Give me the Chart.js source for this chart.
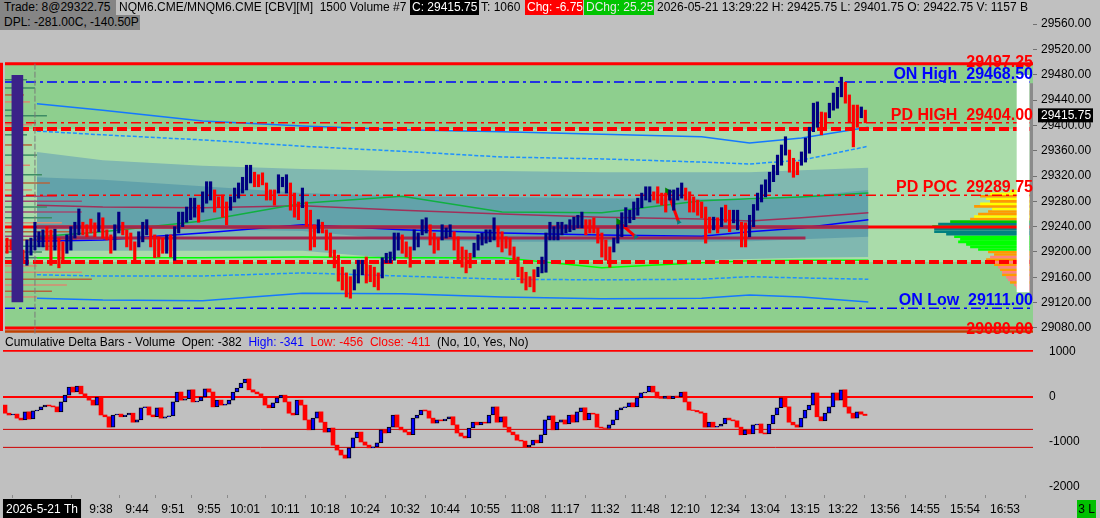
<!DOCTYPE html>
<html>
<head>
<meta charset="utf-8">
<script src="https://cdn.jsdelivr.net/npm/chart.js@4.4.1/dist/chart.umd.min.js"></script>
<style>
  body { margin: 0; background: #c0c0c0; font-family: "Liberation Sans", Arial, sans-serif; font-size: 12px; }
  #wrap { position: relative; width: 1100px; height: 518px; overflow: hidden; }
  .pane { position: absolute; left: 0; }
  .hd { position: absolute; top: 0; height: 15px; line-height: 15px; white-space: nowrap; font-size: 12px; color: #000; z-index: 5; box-sizing: border-box; }
</style>
</head>
<body>
<div id="wrap">
  <canvas id="priceChart" class="pane" style="top:0" width="1100" height="340"></canvas>
  <canvas id="deltaChart" class="pane" style="top:335px" width="1100" height="183"></canvas>

  <div class="hd" style="left:0;width:116px;background:#858585;padding-left:4px">Trade: 8@29322.75</div>
  <div class="hd" style="left:119px">NQM6.CME/MNQM6.CME [CBV][M]&nbsp; 1500 Volume #7</div>
  <div class="hd" style="left:410px;background:#000;color:#fff;padding:0 2px">C: 29415.75</div>
  <div class="hd" style="left:481px">T: 1060</div>
  <div class="hd" style="left:525px;width:58px;background:#ff0000;color:#fff;padding-left:2px">Chg: -6.75</div>
  <div class="hd" style="left:584px;width:70px;background:#00c400;color:#e8e8e8;padding-left:2px">DChg: 25.25</div>
  <div class="hd" style="left:657px">2026-05-21 13:29:22 H: 29425.75 L: 29401.75 O: 29422.75 V: 1157 B</div>
  <div class="hd" style="top:15px;left:0;width:140px;background:#858585;padding-left:4px">DPL: -281.00C, -140.50P</div>

  <div class="hd" style="top:335px;left:5px">Cumulative Delta Bars - Volume&nbsp; Open: -382&nbsp; <span style="color:#0000ff">High: -341</span>&nbsp; <span style="color:#ff0000">Low: -456</span>&nbsp; <span style="color:#ff0000">Close: -411</span>&nbsp; (No, 10, Yes, No)</div>
  <div class="hd" style="top:500px;left:1077px;width:19px;height:18px;line-height:18px;background:#00c000;text-align:center">3 L</div>
</div>

<script>
// 1500-volume bars, oldest first
const barHigh = [
  29222,29219,29211,29206,29203,29219,29222,29247,29232,29235,
  29240,29235,29236,29222,29216,29227,29240,29247,29268,29247,
  29243,29252,29246,29262,29254,29235,29227,29243,29263,29247,
  29235,29230,29216,29232,29247,29251,29238,29227,29224,29222,
  29227,29227,29240,29263,29263,29271,29285,29285,29274,29295,
  29311,29311,29298,29287,29290,29279,29287,29301,29309,29318,
  29337,29337,29326,29322,29325,29309,29298,29298,29322,29318,
  29322,29309,29293,29279,29301,29279,29266,29243,29251,29247,
  29235,29230,29203,29195,29176,29167,29161,29172,29187,29187,
  29192,29179,29176,29167,29191,29198,29200,29230,29230,29227,
  29216,29208,29235,29230,29251,29254,29243,29230,29222,29243,
  29238,29243,29232,29224,29208,29203,29198,29214,29227,29230,
  29235,29235,29254,29240,29232,29224,29222,29208,29192,29176,
  29168,29161,29172,29176,29192,29230,29247,29240,29247,29247,
  29243,29251,29255,29258,29263,29251,29251,29254,29238,29230,
  29219,29208,29222,29243,29262,29270,29266,29279,29285,29293,
  29303,29303,29295,29303,29293,29293,29298,29298,29301,29309,
  29301,29295,29287,29282,29279,29271,29255,29255,29254,29270,
  29274,29266,29266,29266,29247,29246,29258,29275,29293,29306,
  29314,29326,29337,29353,29369,29382,29361,29348,29342,29358,
  29380,29397,29435,29437,29421,29420,29435,29451,29460,29476,
  29468,29448,29432,29432,29429,29424
];
const barLow = [
  29198,29203,29192,29183,29183,29179,29195,29203,29208,29208,
  29203,29179,29203,29175,29187,29198,29203,29222,29227,29227,
  29224,29230,29224,29232,29222,29219,29198,29203,29230,29227,
  29208,29203,29183,29208,29216,29227,29208,29191,29192,29198,
  29198,29192,29187,29230,29240,29247,29251,29255,29247,29263,
  29277,29282,29263,29270,29255,29243,29266,29279,29285,29293,
  29298,29309,29303,29303,29306,29282,29282,29274,29293,29303,
  29293,29266,29255,29251,29270,29240,29203,29208,29230,29230,
  29203,29192,29175,29154,29140,29129,29127,29140,29151,29164,
  29151,29153,29145,29140,29159,29183,29183,29187,29203,29198,
  29192,29176,29203,29208,29227,29230,29211,29198,29203,29219,
  29222,29224,29203,29187,29176,29167,29175,29192,29203,29211,
  29214,29216,29219,29208,29200,29206,29195,29187,29161,29151,
  29140,29145,29137,29161,29167,29168,29219,29219,29219,29227,
  29230,29232,29235,29238,29238,29227,29230,29230,29214,29192,
  29187,29176,29200,29214,29224,29240,29246,29251,29258,29270,
  29282,29279,29282,29277,29274,29263,29282,29266,29282,29285,
  29282,29263,29263,29258,29254,29214,29230,29235,29230,29240,
  29247,29232,29246,29235,29208,29208,29224,29240,29266,29279,
  29287,29295,29311,29322,29337,29353,29326,29318,29322,29337,
  29342,29356,29390,29397,29385,29397,29412,29424,29427,29445,
  29435,29405,29366,29397,29412,29404
];
// B = up bar, R = down bar
const barSide = ('RRRRRBBBBB' + 'RRBRRBBBBR' + 'RRRBRRRBBR' + 'RRRBBBRRRR' + 'BRBBBBBBRB' +
  'BBRRRRBBBB' + 'BBRRRRRRBB' + 'BRRRBRRRBR' + 'RRRRRRRBBB' + 'RRRRBBBBBR' +
  'RRBBBBRRRB' + 'BBRRRRRBBB' + 'BBBRRRRRRR' + 'RRRBBBBBBB' + 'BBBBBRRRRR' +
  'RRBBBBBBBB' + 'BBRRRRBBBB' + 'RRRRRRRBRB' + 'RRBBRRBBBB' + 'BBBBBBRRRB' +
  'BBBBRRBBBB' + 'RRRRBR').split('');

// cumulative delta bars (same bar positions)
const deltaOpen = [
  -180,-360,-400,-380,-470,-510,-330,-490,-310,-290,
  -220,-180,-200,-220,-330,-110,40,220,110,240,
  70,0,-70,-180,0,-400,-440,-670,-400,-380,
  -440,-400,-360,-560,-510,-240,-220,-400,-440,-240,
  -470,-440,-420,-110,110,-70,-40,160,-110,-90,
  0,180,110,-220,-70,-180,-160,-70,110,200,
  310,400,160,110,70,0,-180,-240,-130,-20,
  40,-110,-360,-400,-70,-180,-510,-730,-470,-330,
  -560,-780,-690,-1070,-1180,-1290,-1360,-1130,-910,-780,
  -1000,-1070,-1130,-1110,-1020,-730,-800,-670,-400,-670,
  -730,-780,-840,-470,-400,-290,-310,-470,-580,-510,
  -530,-490,-440,-620,-800,-870,-910,-690,-560,-620,
  -560,-580,-400,-220,-560,-440,-670,-780,-840,-960,
  -980,-1110,-1070,-960,-1020,-840,-510,-420,-730,-560,
  -510,-600,-400,-560,-330,-240,-510,-360,-380,-670,
  -690,-700,-620,-510,-290,-240,-220,-130,-220,-20,
  90,110,240,110,-20,-30,20,-40,20,0,
  110,-110,-290,-300,-330,-360,-670,-560,-670,-650,
  -600,-470,-510,-530,-670,-840,-730,-820,-620,-600,
  -800,-820,-600,-400,-240,-20,-220,-560,-620,-670,
  -470,-290,-180,90,-440,-530,-360,-220,90,-70,
  160,-220,-360,-470,-330,-382
];
const deltaClose = [
  -360,-400,-380,-470,-510,-330,-490,-310,-290,-220,
  -180,-200,-220,-330,-110,40,220,110,240,70,
  0,-70,-180,0,-400,-440,-670,-400,-380,-440,
  -400,-360,-560,-510,-240,-220,-400,-440,-240,-470,
  -440,-420,-110,110,-70,-40,160,-110,-90,0,
  180,110,-220,-70,-180,-160,-70,110,200,310,
  400,160,110,70,0,-180,-240,-130,-20,40,
  -110,-360,-400,-70,-180,-510,-730,-470,-330,-560,
  -780,-690,-1070,-1180,-1290,-1360,-1130,-910,-780,-1000,
  -1070,-1130,-1110,-1020,-730,-800,-670,-400,-670,-730,
  -780,-840,-470,-400,-290,-310,-470,-580,-510,-530,
  -490,-440,-620,-800,-870,-910,-690,-560,-620,-560,
  -580,-400,-220,-560,-440,-670,-780,-840,-960,-980,
  -1110,-1070,-960,-1020,-840,-510,-420,-730,-560,-510,
  -600,-400,-560,-330,-240,-510,-360,-380,-670,-690,
  -700,-620,-510,-290,-240,-220,-130,-220,-20,90,
  110,240,110,-20,-30,20,-40,20,0,110,
  -110,-290,-300,-330,-360,-670,-560,-670,-650,-600,
  -470,-510,-530,-670,-840,-730,-820,-620,-600,-800,
  -820,-600,-400,-240,-20,-220,-560,-620,-670,-470,
  -290,-180,90,-440,-530,-360,-220,90,-70,160,
  -220,-360,-470,-330,-382,-411
];

// axis ticks
const priceTicks = [29560, 29520, 29480, 29440, 29400, 29360, 29320, 29280, 29240, 29200, 29160, 29120, 29080];
const deltaTicks = [1000, 0, -1000, -2000];
const timeTickPos = [9.25, 24, 33, 42, 51, 60, 70, 80, 90, 100, 110, 120, 130, 140, 150, 160, 170, 180, 190, 200, 209.5, 220, 230, 240, 250];
const timeTickLabels = ['2026-5-21 Th', '9:38', '9:44', '9:51', '9:55', '10:01', '10:11', '10:18', '10:24', '10:32', '10:44', '10:55',
  '11:08', '11:17', '11:32', '11:48', '12:10', '12:34', '13:04', '13:15', '13:22', '13:56', '14:55', '15:54', '16:53'];

// reference levels
const levelNames = ['ON High', 'PD HIGH', 'PD POC', 'ON Low'];
const levelPrices = [29468.5, 29404.0, 29289.75, 29111.0];
const boxTop = 29497.25;
const boxBottom = 29080.0;
const vaHigh = 29394.25;
const vaLow = 29184.25;
const pocPrice = 29239.5;
const devPocPrice = 29222;
const lastPrice = 29415.75;
const deltaGuides = [-720, -1120];

// vwap study, sampled at these bar positions
const studyX = [7.5, 24, 49, 74, 99, 124, 149, 174, 186, 199, 215.75];
const vwap = [29217, 29219, 29230, 29243, 29235, 29230, 29227, 29225, 29232, 29238, 29251];
const band1Up = [29224, 29232, 29249, 29277, 29288, 29263, 29262, 29281, 29284, 29287, 29293];
const band1Dn = [29191, 29191, 29191, 29192, 29191, 29191, 29175, 29183, 29186, 29187, 29187];
const band2Up = [29391, 29385, 29377, 29367, 29359, 29350, 29347, 29342, 29339, 29345, 29367];
const band2Dn = [29164, 29162, 29162, 29167, 29162, 29157, 29156, 29157, 29161, 29159, 29157];
const band3Up = [29434, 29424, 29407, 29399, 29393, 29390, 29386, 29382, 29372, 29380, 29397];
const band3Dn = [29127, 29124, 29123, 29135, 29134, 29129, 29126, 29127, 29132, 29129, 29121];
const trendLine = [29274, 29271, 29270, 29273, 29266, 29260, 29255, 29252, 29249, 29254, 29262];
const shadeOuterTop = [29358, 29345, 29336, 29331, 29328, 29328, 29326, 29326, 29326, 29329, 29333];
const shadeOuterBot = [29202, 29202, 29202, 29202, 29189, 29187, 29187, 29187, 29189, 29191, 29192];
const shadeInnerTop = [29318, 29314, 29304, 29293, 29288, 29287, 29285, 29284, 29282, 29288, 29298];
const shadeInnerBot = [29238, 29238, 29236, 29233, 29219, 29216, 29216, 29216, 29217, 29220, 29224];

// session volume profile (right) and overnight profile (left)
const rightProfPrice = [29296, 29292, 29288, 29284, 29280, 29276, 29272, 29268, 29264, 29260,
  29256, 29252, 29248, 29244, 29240, 29236, 29232, 29228, 29224, 29220,
  29216, 29212, 29208, 29204, 29200, 29196, 29192, 29188, 29184, 29180,
  29176, 29172, 29168, 29164, 29160, 29156, 29152, 29148, 29144, 29140];
const rightProfVol = [5, 10, 12.5, 11, 10, 12.5, 14, 9.5, 10.5, 13,
  14, 15, 20, 23, 24.5, 24, 24, 21, 19, 17.5,
  18, 16, 15, 13, 10.5, 9, 10, 11, 9.5, 9,
  8, 7.5, 7, 7, 6, 5.5, 5, 4, 3.5, 3];
const rightProfZone = 'YYOYOYOYOOYOGTGTTTLLLLLLOOSOSOSOSOSSOSSS'.split('');
const leftProfPrice = [29472, 29459, 29448, 29437, 29424, 29415, 29401, 29385, 29369, 29353,
  29337, 29322, 29309, 29298, 29288, 29280, 29271, 29263, 29254, 29246,
  29232, 29225, 29219, 29209, 29200, 29191, 29178, 29168, 29157, 29148, 29138, 29129];
const leftProfVol = [5.5, 7.5, 4.75, 6.25, 4.25, 10.5, 6.75, 5.5, 6.75, 8,
  6.25, 9.25, 11.25, 6.75, 13, 19.25, 10.5, 19.25, 11.75, 14.25,
  16.75, 22.5, 18, 13, 9.25, 14.25, 8, 19.25, 21.75, 15.5, 11.75, 8];
const leftProfZone = 'ggbsggsgbgsgbsmmgmgsbmbgggssbsbs'.split('');
const overnightRange = [29121, 29479];
const tpoRange = [29137, 29479];

// trade arrows
const arrowFrom = [[153.25, 29247], [165.5, 29295]];
const arrowTo = [[157.5, 29224], [168.25, 29247]];

Chart.defaults.font.family = '"Liberation Sans", Arial, Helvetica, sans-serif';
Chart.defaults.font.size = 12;
Chart.defaults.color = '#000000';

const X_MIN = -0.5, X_MAX = 257, PROFILE_RIGHT = 256.25;
const rightZoneColor = { Y: '#ffff00', O: '#ff9900', G: '#00c000', T: '#008080', L: '#00ff00', S: '#ff8080' };
const leftZoneColor = { g: '#3d8c64', b: '#b4643c', s: '#d88a70', m: '#a04870' };

function hLine(price, color, width, dash, order, x0, x1) {
  return {
    type: 'line',
    data: [{ x: x0 === undefined ? X_MIN : x0, y: price }, { x: x1 === undefined ? X_MAX : x1, y: price }],
    borderColor: color, borderWidth: width, borderDash: dash || [],
    pointRadius: 0, fill: false, order: order
  };
}
function studyLine(vals, color, width, dash, order) {
  return {
    type: 'line',
    data: studyX.map((x, i) => ({ x: x, y: vals[i] })),
    borderColor: color, borderWidth: width, borderDash: dash || [],
    pointRadius: 0, fill: false, order: order
  };
}
function zeroPad(s) { s.paddingTop = 0; s.paddingBottom = 0; s.paddingLeft = 0; s.paddingRight = 0; }

// ---- price pane datasets ----
const priceSets = [];
priceSets.push(studyLine(shadeOuterBot, 'rgba(0,0,0,0)', 0, null, 95));
priceSets.push(Object.assign(studyLine(shadeOuterTop, 'rgba(0,0,0,0)', 0, null, 94), { fill: priceSets.length - 1, backgroundColor: '#80b8b0' }));
priceSets.push(studyLine(shadeInnerBot, 'rgba(0,0,0,0)', 0, null, 93));
priceSets.push(Object.assign(studyLine(shadeInnerTop, 'rgba(0,0,0,0)', 0, null, 92), { fill: priceSets.length - 1, backgroundColor: '#62a2aa' }));

leftProfPrice.forEach((p, i) => priceSets.push(hLine(p, leftZoneColor[leftProfZone[i]], 1.5, null, 80, X_MIN, X_MIN + leftProfVol[i])));
rightProfPrice.forEach((p, i) => priceSets.push(hLine(p, rightZoneColor[rightProfZone[i]], 2.6, null, 80, PROFILE_RIGHT - rightProfVol[i], PROFILE_RIGHT)));

priceSets.push(studyLine(band3Up, '#1478ff', 1.5, null, 70));
priceSets.push(studyLine(band3Dn, '#1478ff', 1.5, null, 70));
priceSets.push(studyLine(band2Up, '#1e90ff', 1.5, [4, 2], 70));
priceSets.push(studyLine(band2Dn, '#1e90ff', 1.5, [4, 2], 70));
priceSets.push(studyLine(band1Up, '#10b040', 1.5, null, 70));
priceSets.push(studyLine(band1Dn, '#00ff00', 1.5, null, 70));
priceSets.push(studyLine(trendLine, '#a0305a', 1.5, null, 70));
priceSets.push(studyLine(vwap, '#0000ff', 1.5, null, 70));

priceSets.push(hLine(boxTop, '#ff0000', 3, null, 60));
priceSets.push(hLine(boxBottom, '#ff0000', 3, null, 60));
priceSets.push(hLine(boxBottom - 5.5, '#c04000', 2.5, null, 60));
priceSets.push(hLine(levelPrices[0], '#0000ff', 1.5, [10, 4, 3, 4], 60));
priceSets.push(hLine(levelPrices[1], '#ff0000', 1.5, [10, 4, 3, 4], 60));
priceSets.push(hLine(levelPrices[2], '#ff0000', 1.5, [10, 4, 3, 4], 60));
priceSets.push(hLine(levelPrices[3], '#0000ff', 1.5, [10, 4, 3, 4], 60));
priceSets.push(hLine(vaHigh, '#ff0000', 4, [10, 4], 60));
priceSets.push(hLine(vaLow, '#ff0000', 4, [10, 4], 60));
priceSets.push(hLine(pocPrice, '#ff0000', 3, null, 60));
priceSets.push(hLine(pocPrice, '#a02850', 3, null, 59, studyX[0], studyX[studyX.length - 1]));
priceSets.push(hLine(devPocPrice, '#a02850', 3, null, 59, studyX[0], 200));
priceSets.push({
  type: 'line', data: [{ x: 7, y: 29071 }, { x: 7, y: 29500 }],
  borderColor: '#7a7a7a', borderWidth: 1, borderDash: [6, 2], pointRadius: 0, order: 58
});
arrowFrom.forEach((a, i) => priceSets.push({
  type: 'line', data: [{ x: a[0], y: a[1] }, { x: arrowTo[i][0], y: arrowTo[i][1] }],
  borderColor: '#ff0000', borderWidth: 3, pointStyle: 'triangle', pointRadius: [5, 3],
  pointRotation: [90, 90], pointBackgroundColor: ['#008000', '#008080'], pointBorderWidth: 0, order: 7
}));

priceSets.push({
  type: 'bar',
  data: barHigh.map((h, i) => ({ x: i, y: [barLow[i], h] })),
  backgroundColor: barSide.map(s => (s === 'B' ? '#000080' : '#ff0000')),
  barThickness: 2.5, grouped: false, borderWidth: 0, order: 5
});
priceSets.push({
  type: 'bar', data: [{ x: 2.6, y: overnightRange }],
  backgroundColor: '#3a2288', barThickness: 11, grouped: false, order: 2
});
priceSets.push({
  type: 'bar', data: [{ x: 254.5, y: tpoRange }],
  backgroundColor: '#ffffff', barThickness: 12, grouped: false, order: 2
});
priceSets.push({
  type: 'bar', data: [{ x: 256.75, y: [29124, 29466] }],
  backgroundColor: '#8a8a8a', barThickness: 4, grouped: false, order: 2
});

const boxFill = {
  id: 'boxFill',
  beforeDatasetsDraw(chart) {
    const { ctx, chartArea, scales } = chart;
    const y = scales.y;
    const t = y.getPixelForValue(boxTop), b = y.getPixelForValue(boxBottom);
    ctx.save();
    ctx.fillStyle = '#8ecf8e';
    ctx.fillRect(chartArea.left, t, chartArea.right - chartArea.left, b - t);
    const vt = y.getPixelForValue(vaHigh), vb = y.getPixelForValue(vaLow);
    ctx.fillStyle = '#aadcaa';
    ctx.fillRect(chartArea.left, vt, chartArea.right - chartArea.left, vb - vt);
    ctx.fillStyle = '#ff0000';
    ctx.fillRect(0, t - 1, 3, b - t + 4);
    ctx.restore();
  }
};

const levelLabels = {
  id: 'levelLabels',
  afterDatasetsDraw(chart) {
    const { ctx, chartArea, scales } = chart;
    const y = scales.y;
    const colors = ['#0000ff', '#ff0000', '#ff0000', '#0000ff'];
    ctx.save();
    ctx.font = 'bold 16px "Liberation Sans", Arial, sans-serif';
    ctx.textAlign = 'right';
    ctx.textBaseline = 'alphabetic';
    levelPrices.forEach((p, i) => {
      ctx.fillStyle = colors[i];
      ctx.fillText(levelNames[i] + '  ' + p.toFixed(2), chartArea.right, y.getPixelForValue(p) - 3);
    });
    ctx.fillStyle = '#ff0000';
    ctx.fillText(boxTop.toFixed(2), chartArea.right, y.getPixelForValue(boxTop) + 3);
    ctx.fillText(boxBottom.toFixed(2), chartArea.right, y.getPixelForValue(boxBottom) + 6);
    // last price marker on the axis
    const py = y.getPixelForValue(lastPrice);
    ctx.fillStyle = '#000000';
    ctx.fillRect(chartArea.right + 5, py - 7, 55, 14);
    ctx.font = '12px "Liberation Sans", Arial, sans-serif';
    ctx.fillStyle = '#ffffff';
    ctx.textAlign = 'left';
    ctx.textBaseline = 'middle';
    ctx.fillText(lastPrice.toFixed(2), chartArea.right + 8, py + 0.5);
    ctx.restore();
  }
};

new Chart(document.getElementById('priceChart'), {
  type: 'bar',
  data: { datasets: priceSets },
  plugins: [boxFill, levelLabels],
  options: {
    responsive: false,
    animation: false,
    events: [],
    layout: { padding: { left: 3, right: 0, top: 18, bottom: 6 } },
    plugins: { legend: { display: false }, tooltip: { enabled: false } },
    scales: {
      x: { type: 'linear', min: X_MIN, max: X_MAX, display: false, offset: false },
      y: {
        type: 'linear', position: 'right', min: 29070.5, max: 29569.5, beginAtZero: false,
        afterBuildTicks: s => { s.ticks = priceTicks.map(v => ({ value: v })); },
        afterFit: s => { s.width = 67; zeroPad(s); },
        ticks: { padding: 4, color: '#000', font: { size: 12 }, callback: v => Number(v).toFixed(2) },
        grid: { drawOnChartArea: false, drawTicks: true, tickLength: 4, color: '#707070' },
        border: { display: false }
      }
    }
  }
});

// ---- cumulative delta pane ----
const deltaSets = [];
deltaSets.push(hLine(1030, '#ff0000', 2, null, 60));
deltaSets.push(hLine(0, '#ff0000', 2, null, 60));
deltaGuides.forEach(v => deltaSets.push(hLine(v, '#cc0000', 1, null, 60)));
deltaSets.push({
  type: 'bar',
  data: deltaClose.map((c, i) => ({ x: i, y: [deltaOpen[i], c] })),
  backgroundColor: deltaClose.map((c, i) => (c > deltaOpen[i] ? '#0000ff' : '#ff0000')),
  borderColor: '#000000',
  borderWidth: deltaClose.map((c, i) => (c > deltaOpen[i] ? 1 : 0)),
  borderSkipped: false,
  barThickness: 4, grouped: false, order: 5
});

new Chart(document.getElementById('deltaChart'), {
  type: 'bar',
  data: { datasets: deltaSets },
  options: {
    responsive: false,
    animation: false,
    events: [],
    layout: { padding: { left: 3, right: 0, top: 15, bottom: 0 } },
    plugins: { legend: { display: false }, tooltip: { enabled: false } },
    scales: {
      x: {
        type: 'linear', position: 'bottom', min: X_MIN, max: X_MAX, offset: false,
        afterBuildTicks: s => { s.ticks = timeTickPos.map(v => ({ value: v })); },
        afterFit: s => { s.height = 23; zeroPad(s); },
        ticks: {
          autoSkip: false, maxRotation: 0, minRotation: 0, padding: 4,
          font: { size: 12 },
          color: c => (c.index === 0 ? '#ffffff' : '#000000'),
          showLabelBackdrop: c => c.index === 0,
          backdropColor: '#000000',
          backdropPadding: { left: 3, right: 3, top: 3, bottom: 2 },
          callback: (v, i) => timeTickLabels[i]
        },
        grid: { drawOnChartArea: false, drawTicks: true, tickLength: 3, color: '#8a8a8a' },
        border: { display: false }
      },
      y: {
        type: 'linear', position: 'right', min: -2178, max: 1044, beginAtZero: false,
        afterBuildTicks: s => { s.ticks = deltaTicks.map(v => ({ value: v })); },
        afterFit: s => { s.width = 67; zeroPad(s); },
        ticks: { padding: 8, color: '#000', font: { size: 12 }, callback: v => String(v) },
        grid: { display: false },
        border: { display: false }
      }
    }
  }
});
</script>
</body>
</html>
